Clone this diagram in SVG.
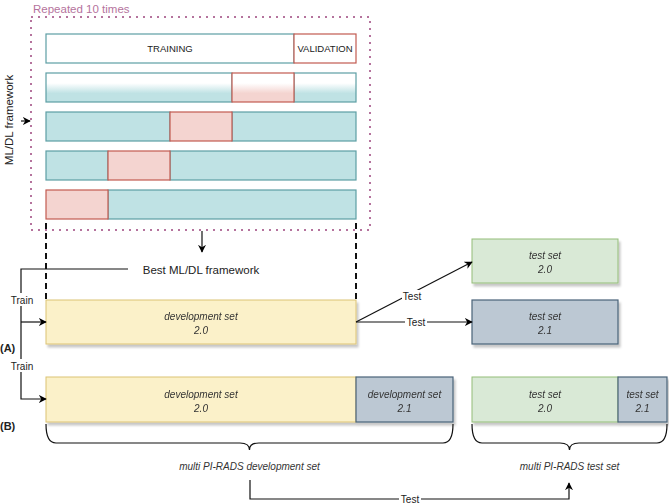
<svg xmlns="http://www.w3.org/2000/svg" width="669" height="503" viewBox="0 0 669 503">
<defs>
  <linearGradient id="gT" x1="0" y1="0" x2="0" y2="1">
    <stop offset="0.35" stop-color="#ffffff"/>
    <stop offset="0.7" stop-color="#bfe2e4"/>
  </linearGradient>
  <linearGradient id="gR" x1="0" y1="0" x2="0" y2="1">
    <stop offset="0.35" stop-color="#ffffff"/>
    <stop offset="0.7" stop-color="#f4d4d0"/>
  </linearGradient>
  <filter id="sh" x="-5%" y="-20%" width="110%" height="150%">
    <feDropShadow dx="2" dy="3" stdDeviation="0.8" flood-color="#000" flood-opacity="0.22"/>
  </filter>
  <marker id="ah" viewBox="0 0 10 10" refX="9" refY="5" markerWidth="8" markerHeight="8" markerUnits="userSpaceOnUse" orient="auto">
    <path d="M0,0 L10,5 L0,10 L3,5 Z" fill="#000"/>
  </marker>
</defs>
<style>
  text { font-family: "Liberation Sans", Arial, Helvetica, sans-serif; fill: #222; }
  .tr { fill: #bfe2e4; stroke: #5d9ea4; stroke-width: 1.2; }
  .va { fill: #f4d4d0; stroke: #c25a50; stroke-width: 1.2; }
  .yl { fill: #fbf1c9; stroke: #dcc374; stroke-width: 1; }
  .gr { fill: #d9e9d6; stroke: #93bd78; stroke-width: 1; }
  .bl { fill: #bcc8d3; stroke: #4a6378; stroke-width: 1.2; }
  .lbl { font-size: 10px; font-style: italic; text-anchor: middle; fill: #333; }
  .cap { font-size: 9.5px; text-anchor: middle; fill: #222; }
  .edge { fill: none; stroke: #111; stroke-width: 1.2; }
  .el { font-size: 10px; text-anchor: middle; fill: #222; }
  .bg { fill: #fff; }
</style>

<g id="cv-frame">
  <text x="33" y="13" style="font-size:11.5px;fill:#b5739d">Repeated 10 times</text>
  <rect x="31" y="17" width="339" height="213" fill="none" stroke="#b5739d" stroke-width="2" stroke-dasharray="2 5"/>
</g>

<g id="ml-label">
  <text x="13" y="120" transform="rotate(-90 13 120)" style="font-size:11.5px;text-anchor:middle">ML/DL framework</text>
</g>

<g id="fold1">
  <rect x="46" y="34" width="248" height="29" fill="#fff" stroke="#5d9ea4" stroke-width="1.2"/>
  <rect x="294" y="34" width="62" height="29" fill="#fff" stroke="#c25a50" stroke-width="1.2"/>
  <text class="cap" x="170" y="52">TRAINING</text>
  <text class="cap" x="325" y="52">VALIDATION</text>
</g>
<g id="fold2">
  <rect x="46" y="73" width="186" height="29" fill="url(#gT)" stroke="#5d9ea4" stroke-width="1.2"/>
  <rect x="294" y="73" width="62" height="29" fill="url(#gT)" stroke="#5d9ea4" stroke-width="1.2"/>
  <rect x="232" y="73" width="62" height="29" fill="url(#gR)" stroke="#c25a50" stroke-width="1.2"/>
</g>
<g id="fold3">
  <rect class="tr" x="46" y="112" width="124" height="29"/>
  <rect class="tr" x="232" y="112" width="124" height="29"/>
  <rect class="va" x="170" y="112" width="62" height="29"/>
</g>
<g id="fold4">
  <rect class="tr" x="46" y="151" width="62" height="29"/>
  <rect class="tr" x="170" y="151" width="186" height="29"/>
  <rect class="va" x="108" y="151" width="62" height="29"/>
</g>
<g id="fold5">
  <rect class="tr" x="108" y="190" width="248" height="29"/>
  <rect class="va" x="46" y="190" width="62" height="29"/>
</g>

<g id="best">
  <text x="201" y="274" style="font-size:11.5px;text-anchor:middle">Best ML/DL framework</text>
</g>

<g id="dev-a" filter="url(#sh)">
  <rect class="yl" x="46" y="300" width="310" height="44"/>
  <text class="lbl" x="201" y="320">development set</text>
  <text class="lbl" x="201" y="334">2.0</text>
</g>
<g id="test-a20" filter="url(#sh)">
  <rect class="gr" x="472" y="239" width="146" height="44"/>
  <text class="lbl" x="545" y="259">test set</text>
  <text class="lbl" x="545" y="273">2.0</text>
</g>
<g id="test-a21" filter="url(#sh)">
  <rect class="bl" x="472" y="300" width="146" height="44"/>
  <text class="lbl" x="545" y="320">test set</text>
  <text class="lbl" x="545" y="334">2.1</text>
</g>

<g id="dev-b" filter="url(#sh)">
  <rect class="yl" x="46" y="377" width="310" height="45"/>
  <rect class="bl" x="356" y="377" width="97" height="45"/>
  <text class="lbl" x="201" y="397.5">development set</text>
  <text class="lbl" x="201" y="411.5">2.0</text>
  <text class="lbl" x="404.5" y="397.5">development set</text>
  <text class="lbl" x="404.5" y="411.5">2.1</text>
</g>
<g id="test-b" filter="url(#sh)">
  <rect class="gr" x="472" y="377" width="146" height="45"/>
  <rect class="bl" x="618" y="377" width="49" height="45"/>
  <text class="lbl" x="545" y="397.5">test set</text>
  <text class="lbl" x="545" y="411.5">2.0</text>
  <text class="lbl" x="642.5" y="397.5">test set</text>
  <text class="lbl" x="642.5" y="411.5">2.1</text>
</g>

<g id="brace-dev">
  <path class="edge" d="M46,424 Q46,443 56,443 L240,443 Q249.5,443 249.5,450 Q249.5,443 259,443 L443,443 Q453,443 453,424"/>
  <text class="lbl" x="249.5" y="470">multi PI-RADS development set</text>
</g>
<g id="brace-test">
  <path class="edge" d="M472,424 Q472,443 482,443 L560,443 Q569.5,443 569.5,450 Q569.5,443 579,443 L657,443 Q667,443 667,424"/>
  <text class="lbl" x="569.5" y="470">multi PI-RADS test set</text>
</g>

<g id="labels">
  <text x="0" y="352" style="font-size:11px;font-weight:bold">(A)</text>
  <text x="0" y="430" style="font-size:11px;font-weight:bold">(B)</text>
</g>

<g id="connectors">
  <path d="M46,223 V300 M356,223 V300" fill="none" stroke="#111" stroke-width="2" stroke-dasharray="6 4"/>
  <path class="edge" d="M21,121 H30" marker-end="url(#ah)"/>
  <path class="edge" d="M202,231 V252" marker-end="url(#ah)"/>
  <path class="edge" d="M128,269 H21 V399 H46" marker-end="url(#ah)"/>
  <path class="edge" d="M21,322 H46" marker-end="url(#ah)"/>
  <rect class="bg" x="10" y="293" width="24" height="13"/>
  <text class="el" x="22" y="303.5">Train</text>
  <rect class="bg" x="10" y="359" width="24" height="13"/>
  <text class="el" x="22" y="369.5">Train</text>
  <path class="edge" d="M356,322 L472,262" marker-end="url(#ah)"/>
  <path class="edge" d="M356,322 H472" marker-end="url(#ah)"/>
  <rect class="bg" x="402" y="290" width="21" height="12"/>
  <text class="el" x="412" y="299.5">Test</text>
  <rect class="bg" x="405" y="316" width="22" height="12"/>
  <text class="el" x="416" y="325.5">Test</text>
  <path class="edge" d="M250,480 V499 H569 V483" marker-end="url(#ah)"/>
  <rect class="bg" x="399" y="493" width="22" height="12"/>
  <text class="el" x="410" y="502.5">Test</text>
</g>
</svg>
